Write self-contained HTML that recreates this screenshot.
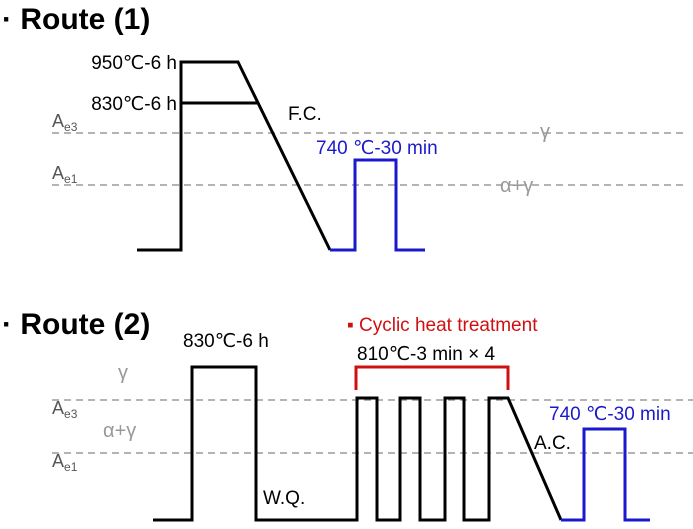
<!DOCTYPE html>
<html><head><style>body{margin:0;background:#fff}</style></head><body>
<svg width="693" height="524" xmlns="http://www.w3.org/2000/svg" font-family="Liberation Sans, DejaVu Sans, sans-serif">
<g stroke="#888" stroke-width="1.3" stroke-dasharray="7,5" fill="none">
<line x1="52" y1="133" x2="685" y2="133"/><line x1="52" y1="185" x2="685" y2="185"/>
<line x1="52" y1="400" x2="693" y2="400"/><line x1="52" y1="453" x2="693" y2="453"/>
</g>
<g stroke="#000" stroke-width="3" fill="none" stroke-linejoin="miter">
<polyline points="137,250 181,250 181,62 238,62 330,250"/>
<line x1="181" y1="103" x2="257" y2="103"/>
<polyline points="153,520 192,520 192,367 256,367 256,520 357,520 357,398 377,398 377,520 400,520 400,398 420,398 420,520 445,520 445,398 464,398 464,520 489,520 489,398 508,398 561,520"/>
</g>
<g stroke="#1a1acc" stroke-width="3" fill="none">
<polyline points="330,250 355,250 355,160 396,160 396,250 425,250"/>
<polyline points="561,520 584,520 584,429 625,429 625,520 650,520"/>
</g>
<polyline points="356,390 356,367 508,367 508,390" stroke="#d01010" stroke-width="3" fill="none"/>
<g font-size="30" font-weight="bold"><text x="2" y="29">· Route (1)</text><text x="2" y="334">· Route (2)</text></g>
<g font-size="19" fill="#000">
<text x="177" y="69" text-anchor="end">950℃-6 h</text><text x="177" y="110" text-anchor="end">830℃-6 h</text>
<text x="288" y="120">F.C.</text>
<text x="183" y="347">830℃-6 h</text>
<text x="357" y="360">810℃-3 min × 4</text>
<text x="263" y="504">W.Q.</text><text x="534" y="449">A.C.</text>
</g>
<g font-size="18" fill="#555">
<text x="52" y="127">A<tspan font-size="12" dy="4">e3</tspan></text>
<text x="52" y="179">A<tspan font-size="12" dy="4">e1</tspan></text>
<text x="52" y="414">A<tspan font-size="12" dy="4">e3</tspan></text>
<text x="52" y="467">A<tspan font-size="12" dy="4">e1</tspan></text>
</g>
<g font-size="20" fill="#999">
<text x="540" y="138">γ</text><text x="500" y="192">α+γ</text>
<text x="118" y="379">γ</text><text x="103" y="437">α+γ</text>
</g>
<g font-size="19" fill="#1a1acc"><text x="316" y="154">740 ℃-30 min</text><text x="549" y="420">740 ℃-30 min</text></g>
<text x="347" y="331" font-size="19" fill="#d01010">▪ Cyclic heat treatment</text>
</svg>
</body></html>
